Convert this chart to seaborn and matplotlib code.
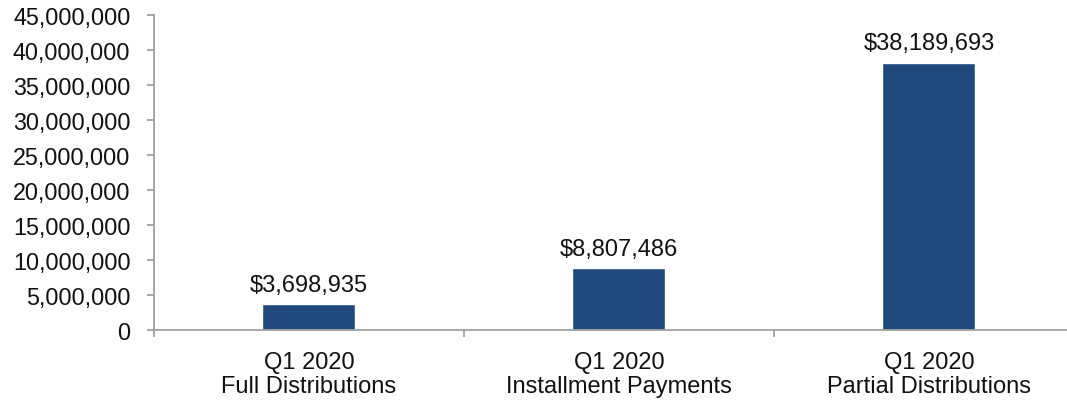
import matplotlib
matplotlib.use("Agg")
import matplotlib.pyplot as plt
import seaborn as sns
import pandas as pd
from matplotlib.ticker import FuncFormatter, MultipleLocator

categories = ["Q1 2020\nFull Distributions",
              "Q1 2020\nInstallment Payments",
              "Q1 2020\nPartial Distributions"]
amounts = [3698935, 8807486, 38189693]

sns.set_theme(style="white")
plt.rcParams["font.family"] = ["Liberation Sans", "DejaVu Sans"]

df = pd.DataFrame({"category": categories, "amount": amounts})

fig = plt.figure(figsize=(10.67, 4.02), dpi=100)
ax = fig.add_axes([154 / 1067, 1 - 331 / 402, 930 / 1067, 315 / 402])

sns.barplot(data=df, x="category", y="amount", color="#1F497D",
            saturation=1, width=0.3, ax=ax)

ax.set_ylim(0, 45000000)
ax.set_xlim(-0.5, 2.5)
ax.yaxis.set_major_locator(MultipleLocator(5000000))
ax.yaxis.set_major_formatter(FuncFormatter(lambda v, p: f"{int(v):,}"))
ax.set_xlabel("")
ax.set_ylabel("")

for i, v in enumerate(amounts):
    ax.annotate(f"${v:,}", xy=(i, v), xytext=(0, 6), textcoords="offset points",
                ha="center", va="bottom", fontsize=17, color="#111111")

for side in ["top", "right"]:
    ax.spines[side].set_visible(False)
for side in ["left", "bottom"]:
    ax.spines[side].set_color("#A0A0A0")
    ax.spines[side].set_linewidth(1.3)

ax.set_xticks([-0.5, 0.5, 1.5, 2.5], minor=False)
ax.set_xticklabels([])
ax.set_xticks([0, 1, 2], minor=True)
ax.set_xticklabels(categories, minor=True, linespacing=1.1)
ax.tick_params(axis="x", which="major", length=5, width=1.3, color="#A0A0A0",
               direction="out", bottom=True)
ax.tick_params(axis="x", which="minor", length=0, pad=15, labelsize=17,
               labelcolor="#111111")
ax.tick_params(axis="y", length=5, width=1.3, color="#A0A0A0", direction="out",
               left=True, labelsize=16.8, labelcolor="#111111", pad=12)

fig.savefig("out.png", dpi=100)
